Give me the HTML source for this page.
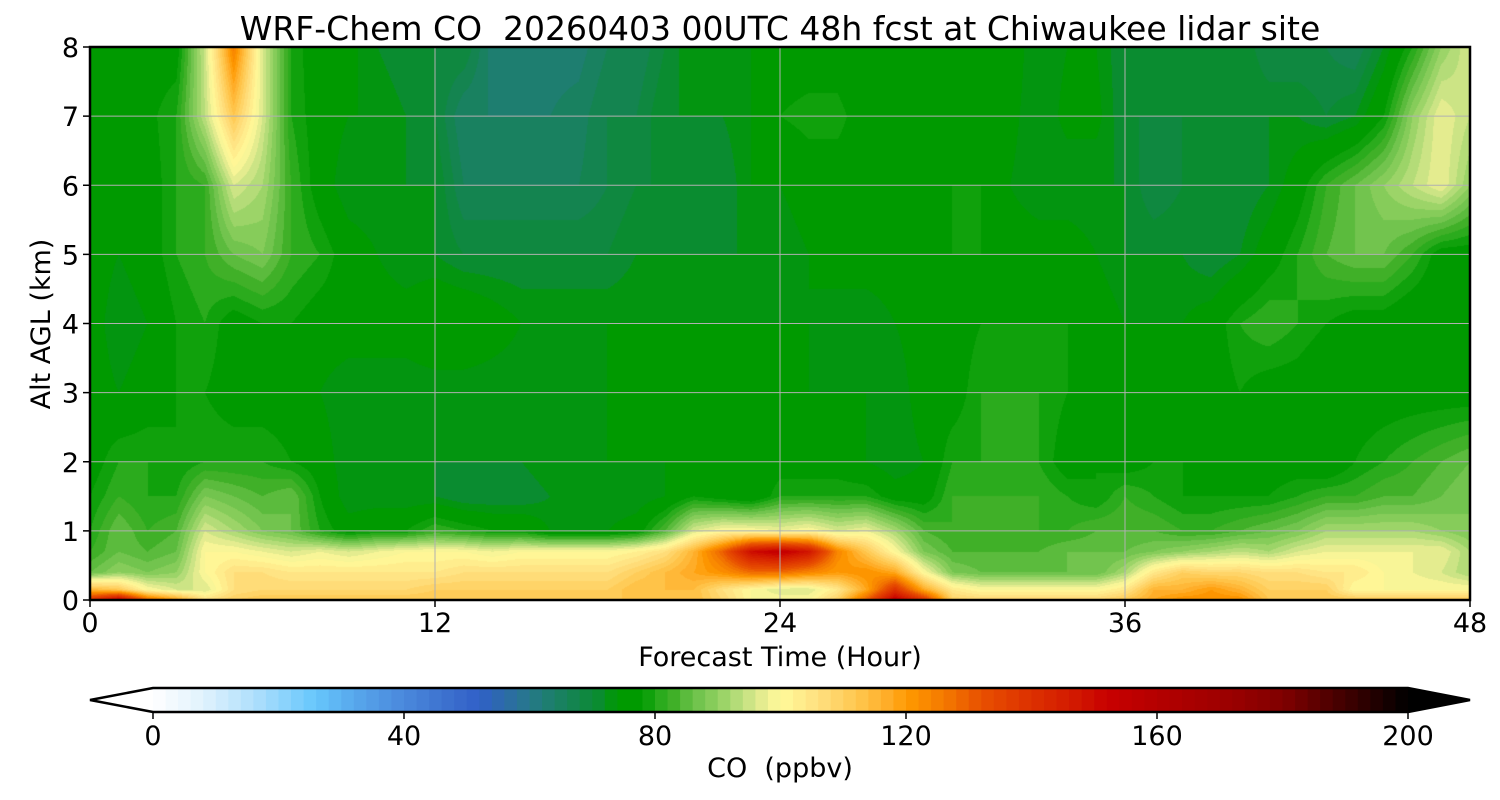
<!DOCTYPE html>
<html><head><meta charset="utf-8"><style>
html,body{margin:0;padding:0;background:#fff;width:1500px;height:800px;overflow:hidden;font-family:"DejaVu Sans",sans-serif}
#wrap{position:relative;width:1500px;height:800px}
canvas{position:absolute;left:90px;top:47px}
svg{position:absolute;left:0;top:0}
text{white-space:pre}
</style></head><body>
<div id="wrap">
<canvas id="cv" width="1380" height="553"></canvas>
<svg id="sv" width="1500" height="800"></svg>
</div>
<script>
// ---- data ----
const hours = [];
for (let h = 0; h <= 48; h++) hours.push(h);
const levelsKm = [0, 0.15, 0.4, 0.7, 1.0, 1.5, 2, 3, 4, 5, 6, 7, 8];
const xTicks = [0, 12, 24, 36, 48];
const yTicks = [0, 1, 2, 3, 4, 5, 6, 7, 8];
const cbTicks = [0, 40, 80, 120, 160, 200];
// rows: one per level (bottom to top), 49 hourly values each
const co_0 = [140,155,130,120,106,110,112,112,112,112,112,112,112,112,112,112,112,112,112,112,112,114,108,100,100,100,110,130,155,140,110,108,108,108,108,108,112,118,122,122,122,112,112,112,112,112,112,112,112];
const co_015 = [115,112,100,96,96,106,108,108,108,108,108,108,110,110,110,110,110,110,110,114,114,114,106,100,96,96,104,118,140,118,104,100,100,100,100,100,104,116,116,120,116,110,110,110,100,100,100,100,100];
const co_04 = [86,90,88,90,100,106,106,104,104,104,104,104,104,106,106,106,106,106,106,110,114,118,122,128,128,124,120,122,118,100,88,86,86,86,86,86,92,104,110,108,108,106,106,104,104,100,98,96,92];
const co_07 = [82,86,84,86,100,100,98,96,98,96,98,100,100,100,98,100,100,100,100,102,106,116,130,150,155,148,124,112,100,88,84,84,84,84,86,86,86,88,90,92,94,92,96,98,98,98,98,98,92];
const co_10 = [80,86,82,84,96,92,88,86,80,76,78,78,82,80,78,78,74,74,74,76,84,96,100,100,98,100,96,98,92,84,82,82,82,82,82,84,84,84,82,82,84,86,88,92,92,92,92,90,88];
const co_15 = [78,82,80,80,88,86,84,86,78,72,72,72,72,70,70,70,72,72,72,72,74,78,76,74,80,80,80,80,76,76,82,82,82,82,80,78,82,80,78,78,78,78,80,82,82,84,84,86,88];
const co_20 = [76,80,80,78,80,80,80,78,76,72,72,72,72,72,72,72,74,74,74,74,74,74,74,74,76,76,76,74,72,74,80,80,80,80,76,78,76,78,78,76,76,76,76,74,78,80,82,84,86];
const co_30 = [76,74,76,78,78,76,76,76,74,72,72,72,72,72,72,72,72,72,74,74,74,74,74,74,74,74,74,74,72,76,76,80,80,80,78,76,76,76,76,76,78,76,76,74,76,76,76,76,76];
const co_40 = [76,72,74,78,80,76,78,78,76,76,76,76,78,78,76,74,74,74,74,74,74,74,74,74,74,74,72,72,74,76,76,78,78,78,78,76,74,74,74,76,80,82,80,78,76,76,74,74,74];
const co_50 = [76,74,76,80,82,86,88,82,80,76,74,72,72,70,70,70,70,70,70,72,72,72,72,72,72,74,76,76,76,78,78,78,76,76,76,74,72,72,72,70,72,76,80,84,86,86,82,76,76];
const co_60 = [74,76,76,80,82,96,92,82,76,72,72,72,72,66,66,66,66,66,68,70,70,70,70,74,74,76,76,76,76,74,78,78,74,72,72,72,72,68,70,70,70,72,76,82,86,90,94,98,90];
const co_70 = [76,76,77,80,94,112,96,80,76,74,74,72,70,64,64,64,64,65,68,68,72,72,72,74,78,79,79,76,74,74,74,78,75,72,75,75,70,70,70,70,72,72,72,70,72,78,90,98,94];
const co_80 = [76,76,76,76,95,125,96,80,75,75,72,70,70,70,63,63,63,63,66,66,70,74,74,74,76,76,76,74,74,74,76,78,76,72,74,74,70,70,70,72,72,68,68,68,66,72,80,90,96];
const coRows = [co_0, co_015, co_04, co_07, co_10, co_15, co_20, co_30, co_40, co_50, co_60, co_70, co_80];

// ---- colormap ----
const cmapStops = [[0,'#ffffff'],[8,'#e0f2fd'],[16,'#b0e0fc'],[26,'#66c6fc'],[32,'#58a8ec'],[40,'#4a88dc'],[48,'#3a6ccc'],[52,'#3060c8'],[56,'#2c6aa8'],[60,'#26788a'],[63,'#1e7e70'],[67,'#148450'],[71,'#0a8c30'],[74,'#009a00'],[78,'#009a00'],[80,'#20a818'],[83,'#40b028'],[86,'#68c048'],[90,'#90d060'],[94,'#c0e080'],[98,'#f0f094'],[100,'#fffa9a'],[106,'#ffe080'],[112,'#ffc850'],[118,'#ffa820'],[120,'#ff9a00'],[126,'#f47a00'],[132,'#e85000'],[140,'#dc3000'],[148,'#d01400'],[152,'#c80000'],[160,'#b40000'],[172,'#9a0000'],[180,'#800000'],[190,'#400000'],[200,'#000000']];
function hex(h){return [parseInt(h.substr(1,2),16),parseInt(h.substr(3,2),16),parseInt(h.substr(5,2),16)];}
const stopsRGB = cmapStops.map(s=>[s[0],hex(s[1])]);
function cmap(v){
  if(v<=0)return stopsRGB[0][1];
  if(v>=200)return stopsRGB[stopsRGB.length-1][1];
  for(let i=1;i<stopsRGB.length;i++){
    if(v<=stopsRGB[i][0]){
      const a=stopsRGB[i-1],b=stopsRGB[i];const f=(v-a[0])/(b[0]-a[0]);
      return [0,1,2].map(k=>Math.round(a[1][k]+(b[1][k]-a[1][k])*f));
    }
  }
}
function binColor(v){const b=Math.floor(v/2)*2+1;return cmap(b);}

// ---- axes ----
const PL=90,PT=47,PW=1380,PH=553;
const xScale=t=>PL+t/48*PW;
const yScale=z=>PT+PH-z/8*PH;

// ---- field ----
const cv=document.getElementById('cv');const ctx=cv.getContext('2d');
const img=ctx.createImageData(PW,PH);
function sample(t,z){
  let i=0;while(i<hours.length-2&&t>hours[i+1])i++;
  let j=0;while(j<levelsKm.length-2&&z>levelsKm[j+1])j++;
  const ft=Math.max(0,Math.min(1,(t-hours[i])/(hours[i+1]-hours[i])));
  const fz=Math.max(0,Math.min(1,(z-levelsKm[j])/(levelsKm[j+1]-levelsKm[j])));
  const a=coRows[j][i],b=coRows[j][i+1],c=coRows[j+1][i],d=coRows[j+1][i+1];
  return (a*(1-ft)+b*ft)*(1-fz)+(c*(1-ft)+d*ft)*fz;
}
for(let py=0;py<PH;py++){
  const z=(PH-py-0.5)/PH*8;
  for(let px=0;px<PW;px++){
    const t=(px+0.5)/PW*48;
    const c=binColor(sample(t,z));const k=(py*PW+px)*4;
    img.data[k]=c[0];img.data[k+1]=c[1];img.data[k+2]=c[2];img.data[k+3]=255;
  }
}
ctx.putImageData(img,0,0);

// ---- svg ----
const sv=document.getElementById('sv');const NS='http://www.w3.org/2000/svg';
function mk(tag,attrs,parent){const e=document.createElementNS(NS,tag);for(const k in attrs)e.setAttribute(k,attrs[k]);(parent||sv).appendChild(e);return e;}
function txt(s,x,y,size,anchor,name){const e=mk('text',{x:x,y:y,'font-size':size,'text-anchor':anchor||'middle','font-family':'DejaVu Sans, sans-serif',fill:'#000'});e.textContent=s;


return e;}

for(const t of xTicks){
  if(t>0&&t<48){const l=mk('line',{x1:xScale(t),x2:xScale(t),y1:PT,y2:PT+PH,stroke:'#b0b0b0','stroke-width':1});
  
  }
  const tk=mk('line',{x1:xScale(t),x2:xScale(t),y1:PT+PH,y2:PT+PH+7,stroke:'#000','stroke-width':1.5});
  
  
  txt(String(t),xScale(t),PT+PH+32,27,'middle','x-tick-label');
}
for(const z of yTicks){
  if(z>0&&z<8){const l=mk('line',{x1:PL,x2:PL+PW,y1:yScale(z),y2:yScale(z),stroke:'#b0b0b0','stroke-width':1});
  
  }
  const tk=mk('line',{x1:PL-7,x2:PL,y1:yScale(z),y2:yScale(z),stroke:'#000','stroke-width':1.5});
  
  
  txt(String(z),PL-11,yScale(z)+10,27,'end','y-tick-label');
}
const fr=mk('rect',{x:PL,y:PT,width:PW,height:PH,fill:'none',stroke:'#000','stroke-width':2.5});



txt('WRF-Chem CO  20260403 00UTC 48h fcst at Chiwaukee lidar site',780,40,33,'middle','chart-title');
txt('Forecast Time (Hour)',780,666,27,'middle','x-axis-title');
const yl=txt('Alt AGL (km)',0,0,27,'middle','y-axis-title');
yl.setAttribute('transform','translate(50,324) rotate(-90)');

// colorbar
const CB0=153,CB1=1408,CBT=688,CBH=24;
const cbX=v=>CB0+v/200*(CB1-CB0);
const cbg=mk('g',{});


for(let v=0;v<200;v+=2){
  const c=cmap(v+1);
  const r=mk('rect',{x:cbX(v),y:CBT,width:(CB1-CB0)/100+0.6,height:CBH,fill:`rgb(${c[0]},${c[1]},${c[2]})`},cbg);
  
  
}
const lt=mk('polygon',{points:`${CB0},${CBT} ${CB0},${CBT+CBH} 90,${CBT+CBH/2}`,fill:'#fff'},cbg);


const rt=mk('polygon',{points:`${CB1},${CBT} ${CB1},${CBT+CBH} 1470,${CBT+CBH/2}`,fill:'#000'},cbg);


const ol=mk('polygon',{points:`90,${CBT+CBH/2} ${CB0},${CBT} ${CB1},${CBT} 1470,${CBT+CBH/2} ${CB1},${CBT+CBH} ${CB0},${CBT+CBH}`,fill:'none',stroke:'#000','stroke-width':2.5},cbg);


for(const v of cbTicks){
  const tk=mk('line',{x1:cbX(v),x2:cbX(v),y1:CBT+CBH,y2:CBT+CBH+7,stroke:'#000','stroke-width':1.5});
  
  
  txt(String(v),cbX(v),CBT+CBH+33,27,'middle','colorbar-tick-label');
}
txt('CO  (ppbv)',780,777,27,'middle','colorbar-title');
</script>
</body></html>
